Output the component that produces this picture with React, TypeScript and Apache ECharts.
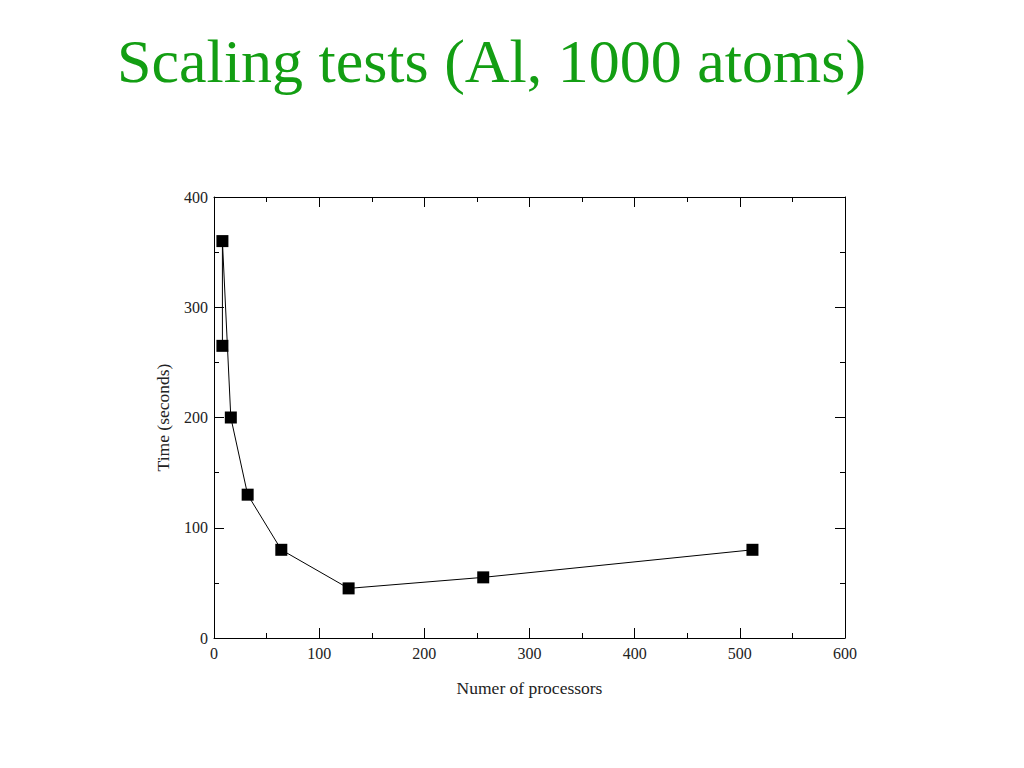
import React, { useEffect, useRef } from "react";
import * as echarts from "echarts";

const processors = [8, 8, 16, 32, 64, 128, 256, 512];
const timeSeconds = [265, 360, 200, 130, 80, 45, 55, 80];
const xTicks = [0, 100, 200, 300, 400, 500, 600];
const yTicks = [0, 100, 200, 300, 400];

const titleText = "Scaling tests (Al, 1000 atoms)";
const xName = "Numer of processors";
const yName = "Time (seconds)";

export default function App() {
  const ref = useRef<HTMLDivElement>(null);
  useEffect(() => {
    if (!ref.current) return;
    const chart = echarts.init(ref.current, null, { renderer: "svg" });
    const serif = "Liberation Serif";
    const black = { color: "#000", width: 1 };
    const labelStyle = { color: "#222", fontFamily: serif, fontSize: 16 };
    const nameStyle = { color: "#222", fontFamily: serif, fontSize: 17.5 };
    const xMin = xTicks[0];
    const xMax = xTicks[xTicks.length - 1];
    const yMin = yTicks[0];
    const yMax = yTicks[yTicks.length - 1];
    const majorX = xTicks[1] - xTicks[0];
    const majorY = yTicks[1] - yTicks[0];

    const mkAxis = (
      kind: "x" | "y",
      position: string,
      major: boolean,
      main: boolean
    ) => {
      const min = kind === "x" ? xMin : yMin;
      const max = kind === "x" ? xMax : yMax;
      const step = kind === "x" ? majorX : majorY;
      const ax: any = {
        type: "value",
        min,
        max,
        interval: major ? step : step / 2,
        position,
        axisLine: { show: major, onZero: false, lineStyle: black },
        axisTick: { show: true, inside: true, length: major ? 10 : 5, lineStyle: black },
        splitLine: { show: false },
        axisLabel: { show: false },
      };
      if (main) {
        ax.axisLabel = { show: true, ...labelStyle, margin: kind === "x" ? 7 : 6 };
        ax.name = kind === "x" ? xName : yName;
        ax.nameLocation = "middle";
        ax.nameGap = kind === "x" ? 41 : 42;
        if (kind === "y") ax.nameRotate = 90;
        ax.nameTextStyle = nameStyle;
      }
      return ax;
    };

    const xAxes = [
      mkAxis("x", "bottom", true, true),
      mkAxis("x", "top", true, false),
      mkAxis("x", "bottom", false, false),
      mkAxis("x", "top", false, false),
    ];
    const yAxes = [
      mkAxis("y", "left", true, true),
      mkAxis("y", "right", true, false),
      mkAxis("y", "left", false, false),
      mkAxis("y", "right", false, false),
    ];
    const points = processors.map((p, i) => [p, timeSeconds[i]]);
    const helpers = [1, 2, 3].map((i) => ({
      type: "line",
      xAxisIndex: i,
      yAxisIndex: i,
      data: points,
      symbol: "none",
      silent: true,
      lineStyle: { opacity: 0 },
      tooltip: { show: false },
    }));

    chart.setOption({
      animation: false,
      backgroundColor: "#fff",
      textStyle: { fontFamily: serif },
      title: {
        text: titleText,
        left: 117,
        top: 30,
        padding: 0,
        textStyle: { color: "#139e13", fontFamily: serif, fontSize: 62, fontWeight: "normal" },
      },
      grid: { left: 214, right: 179, top: 197, bottom: 130, containLabel: false },
      xAxis: xAxes,
      yAxis: yAxes,
      series: [
        {
          type: "line",
          xAxisIndex: 0,
          yAxisIndex: 0,
          data: points,
          symbol: "rect",
          symbolSize: 12,
          itemStyle: { color: "#000" },
          lineStyle: { color: "#000", width: 1 },
          z: 5,
        },
        ...helpers,
      ],
    });
    return () => chart.dispose();
  }, []);
  return (
    <div
      ref={ref}
      style={{ position: "fixed", left: 0, top: 0, width: 1024, height: 768, background: "#fff" }}
    />
  );
}
